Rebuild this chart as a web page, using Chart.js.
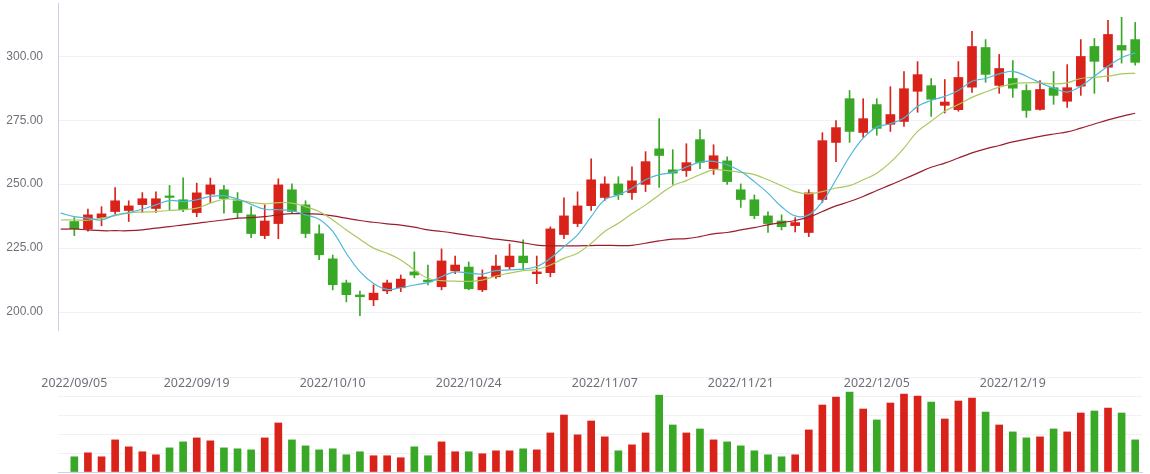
<!DOCTYPE html>
<html>
<head>
<meta charset="utf-8">
<script src="https://cdn.jsdelivr.net/npm/chart.js@4.4.0/dist/chart.umd.min.js"></script>
<style>
    html, body { margin: 0; padding: 0; background: #fff; }
    #wrap { position: relative; width: 1150px; height: 474px; overflow: hidden; }
    #price-chart { position: absolute; left: 0; top: 0; }
    #volume-chart { position: absolute; left: 0; top: 360px; }
</style>
</head>
<body>
<div id="wrap">
    <canvas id="price-chart" width="1150" height="400"></canvas>
    <canvas id="volume-chart" width="1150" height="114"></canvas>
</div>
<script>
// trading days; the first one (09/02) only carries the moving averages, the window cuts it off
const dates = [
    '2022/09/02',
    '2022/09/05', '2022/09/06', '2022/09/07', '2022/09/08', '2022/09/09',
    '2022/09/13', '2022/09/14', '2022/09/15', '2022/09/16',
    '2022/09/19', '2022/09/20', '2022/09/21', '2022/09/22', '2022/09/23',
    '2022/09/26', '2022/09/27', '2022/09/28', '2022/09/29', '2022/09/30',
    '2022/10/10', '2022/10/11', '2022/10/12', '2022/10/13', '2022/10/14',
    '2022/10/17', '2022/10/18', '2022/10/19', '2022/10/20', '2022/10/21',
    '2022/10/24', '2022/10/25', '2022/10/26', '2022/10/27', '2022/10/28',
    '2022/10/31', '2022/11/01', '2022/11/02', '2022/11/03', '2022/11/04',
    '2022/11/07', '2022/11/08', '2022/11/09', '2022/11/10', '2022/11/11',
    '2022/11/14', '2022/11/15', '2022/11/16', '2022/11/17', '2022/11/18',
    '2022/11/21', '2022/11/22', '2022/11/23', '2022/11/24', '2022/11/25',
    '2022/11/28', '2022/11/29', '2022/11/30', '2022/12/01', '2022/12/02',
    '2022/12/05', '2022/12/06', '2022/12/07', '2022/12/08', '2022/12/09',
    '2022/12/12', '2022/12/13', '2022/12/14', '2022/12/15', '2022/12/16',
    '2022/12/19', '2022/12/20', '2022/12/21', '2022/12/22', '2022/12/23',
    '2022/12/26', '2022/12/27', '2022/12/28', '2022/12/29', '2022/12/30'
];

const tickLabels = ['2022/09/05', '2022/09/19', '2022/10/10', '2022/10/24', '2022/11/07', '2022/11/21', '2022/12/05', '2022/12/19'];
const priceTicks = [200, 225, 250, 275, 300];

const openPrices = [null,
    235.4, 232.5, 236.9, 239.3, 239.7, 242.0, 240.5, 245.4, 243.9, 238.9,
    246.1, 247.8, 243.5, 238.0, 229.9, 234.6, 247.8, 241.9, 230.6, 220.8,
    211.4, 206.7, 204.8, 208.3, 209.5, 215.7, 212.5, 209.9, 216.1, 217.6,
    208.7, 213.8, 217.7, 221.9, 215.0, 215.4, 230.3, 234.6, 241.6, 244.8,
    250.1, 246.7, 249.9, 263.8, 255.6, 255.3, 267.4, 256.1, 259.1, 247.8,
    243.9, 237.6, 235.6, 233.8, 231.1, 244.0, 266.3, 283.4, 270.2, 281.1,
    273.4, 274.5, 286.3, 288.5, 280.8, 279.1, 287.9, 303.4, 288.6, 291.3,
    286.6, 279.2, 287.7, 282.4, 288.3, 303.8, 295.7, 304.2, 306.5];
const highPrices = [null,
    236.9, 240.3, 241.2, 248.7, 243.5, 246.7, 247.0, 249.5, 252.5, 250.4,
    252.4, 249.5, 246.7, 241.2, 241.9, 252.1, 250.1, 243.5, 234.1, 222.3,
    212.5, 208.2, 210.6, 212.5, 214.5, 223.5, 218.4, 224.7, 221.9, 219.6,
    216.5, 222.3, 226.6, 228.2, 221.9, 233.3, 244.7, 247.0, 259.9, 252.9,
    252.9, 256.8, 262.7, 275.6, 263.5, 265.8, 271.3, 265.4, 260.7, 250.1,
    245.8, 239.2, 238.0, 236.9, 247.8, 270.1, 274.8, 286.6, 283.4, 283.4,
    288.1, 294.0, 297.9, 291.3, 290.9, 297.9, 309.7, 306.5, 300.7, 298.3,
    288.9, 290.5, 294.0, 296.7, 306.5, 306.9, 314.0, 315.2, 313.2];
const lowPrices = [null,
    229.9, 231.6, 233.7, 238.4, 235.4, 239.0, 239.0, 240.0, 239.2, 237.3,
    242.8, 238.7, 236.7, 229.1, 228.7, 228.7, 238.7, 229.1, 220.5, 208.7,
    204.0, 198.6, 202.5, 207.2, 208.0, 213.4, 210.6, 208.7, 215.0, 208.7,
    208.0, 213.2, 216.7, 216.7, 211.1, 213.8, 228.7, 233.4, 239.7, 243.6,
    244.0, 244.0, 247.1, 248.7, 249.9, 253.0, 256.1, 253.8, 249.9, 240.9,
    236.5, 231.1, 232.1, 231.3, 229.5, 242.8, 258.8, 266.3, 268.3, 269.1,
    270.6, 272.6, 278.1, 276.5, 277.8, 278.5, 285.9, 289.8, 285.5, 283.9,
    276.1, 278.9, 281.2, 280.0, 284.7, 285.5, 290.2, 297.3, 296.5];
const closePrices = [null,
    232.5, 238.0, 238.4, 243.5, 241.5, 244.3, 244.3, 244.8, 240.0, 246.6,
    249.7, 244.4, 238.9, 230.7, 235.6, 249.7, 239.3, 230.7, 222.4, 210.7,
    206.8, 206.0, 207.4, 211.4, 212.9, 214.5, 211.8, 220.0, 218.4, 209.1,
    213.7, 218.0, 221.9, 219.3, 215.7, 232.5, 237.6, 241.5, 251.7, 250.1,
    245.9, 251.3, 258.8, 261.2, 254.3, 258.4, 258.5, 261.1, 251.0, 244.0,
    237.7, 234.6, 233.4, 235.0, 246.6, 267.0, 272.1, 270.6, 275.6, 271.8,
    277.2, 287.3, 292.8, 283.2, 282.1, 291.7, 303.8, 292.9, 295.2, 287.5,
    278.8, 287.0, 284.7, 287.7, 299.9, 298.0, 308.5, 302.4, 297.6];
const volumes = [null,
    16.0, 20.2, 16.0, 33.8, 26.5, 21.3, 18.1, 25.4, 31.7, 35.9,
    32.8, 25.4, 24.4, 23.3, 35.9, 51.6, 33.8, 27.5, 23.3, 24.4,
    18.1, 21.3, 17.1, 17.1, 15.0, 26.5, 17.1, 31.7, 21.3, 21.3,
    19.2, 22.3, 22.3, 24.4, 23.3, 41.1, 60.0, 39.1, 53.7, 37.0,
    22.3, 28.6, 41.1, 80.9, 49.5, 41.1, 45.3, 33.8, 31.7, 27.5,
    22.3, 18.1, 16.0, 18.1, 44.3, 70.5, 78.8, 84.1, 66.3, 54.8,
    72.6, 82.0, 79.9, 73.6, 55.8, 74.7, 77.8, 63.1, 49.5, 42.2,
    35.9, 37.0, 45.3, 42.2, 62.1, 64.2, 67.3, 62.1, 33.8];

const ma5 = [238.7,
    237.3, 236.7, 236.0, 238.0, 238.9, 240.2, 241.9, 243.6, 243.2, 243.9,
    245.2, 245.5, 244.2, 242.1, 240.2, 240.0, 239.6, 238.0, 236.3, 231.5,
    223.0, 215.8, 211.2, 208.9, 209.5, 210.6, 211.5, 213.8, 215.7, 215.2,
    214.9, 216.2, 216.5, 216.8, 217.8, 221.0, 225.6, 230.2, 237.3, 243.9,
    245.8, 248.4, 251.7, 253.7, 254.6, 256.7, 258.6, 258.9, 257.6, 255.0,
    251.0, 246.5, 241.2, 237.6, 238.0, 243.2, 251.7, 260.8, 268.0, 272.3,
    273.6, 275.9, 280.4, 282.7, 284.3, 286.6, 290.2, 291.3, 293.1, 294.1,
    292.2, 289.6, 287.6, 286.0, 288.3, 292.2, 296.1, 299.4, 301.3];
const ma10 = [236.0,
    236.0, 235.9, 236.7, 237.7, 238.7, 239.1, 239.3, 239.7, 240.0, 240.6,
    242.6, 244.1, 243.9, 242.8, 242.3, 242.8, 242.6, 241.2, 239.3, 236.0,
    232.1, 228.5, 225.0, 223.0, 220.4, 216.5, 213.2, 212.3, 212.1, 212.0,
    212.5, 214.1, 215.2, 216.2, 216.7, 218.4, 221.0, 223.0, 226.9, 231.5,
    234.7, 238.4, 241.9, 245.8, 249.4, 251.4, 253.7, 255.6, 255.3, 254.6,
    253.7, 251.7, 249.4, 247.1, 246.2, 247.1, 248.5, 249.4, 251.7, 254.3,
    258.5, 264.1, 270.6, 274.6, 278.5, 281.1, 283.9, 286.0, 287.9, 289.2,
    289.6, 289.6, 289.2, 289.6, 291.3, 291.8, 292.2, 293.1, 293.3];
const ma30 = [232.4,
    232.5, 232.1, 231.8, 231.8, 231.8, 232.1, 232.8, 233.4, 234.1, 234.7,
    235.4, 236.0, 236.7, 236.9, 237.3, 238.0, 238.5, 238.4, 238.3, 237.6,
    236.7, 235.8, 235.1, 234.5, 234.0, 233.2, 232.1, 231.5, 230.8, 230.0,
    229.3, 228.5, 227.9, 227.1, 226.2, 225.9, 225.9, 225.9, 226.0, 226.1,
    226.0, 226.1, 226.9, 227.8, 228.5, 228.7, 229.5, 230.6, 231.1, 232.1,
    233.0, 234.1, 235.0, 235.8, 237.1, 239.3, 241.5, 243.2, 245.2, 247.5,
    249.7, 252.0, 254.3, 256.6, 258.2, 260.2, 262.2, 263.8, 265.1, 266.5,
    267.6, 268.7, 269.6, 270.4, 271.9, 273.5, 275.1, 276.5, 277.7];

const upColor = '#d9221a';
const downColor = '#38a826';
const axisColor = '#c8d3ea';
const gridColor = '#eff1f4';
const labelColor = '#6e7079';
const priceFont = { family: '"Liberation Sans", Arial, sans-serif', size: 12 };
const dateFont = { family: '"Noto Sans", sans-serif', size: 12.4 };
const xMin = -0.2;
const xMax = 79.5;

const wickData = [];
const bodyData = [];
const candleColors = [];
const volumeData = [];
const volumeColors = [];
for (let i = 0; i < dates.length; i++) {
    if (openPrices[i] === null) continue;
    const color = closePrices[i] >= openPrices[i] ? upColor : downColor;
    wickData.push({ x: i, y: [lowPrices[i], highPrices[i]] });
    bodyData.push({ x: i, y: [openPrices[i], closePrices[i]] });
    candleColors.push(color);
    volumeData.push({ x: i, y: volumes[i] });
    volumeColors.push(color);
}

function lineData(values) {
    return values.map(function (v, i) { return { x: i, y: v }; });
}

function maLine(values, color) {
    return {
        type: 'line',
        data: lineData(values),
        borderColor: color,
        borderWidth: 1.2,
        pointRadius: 0,
        tension: 0.4,
        order: 0
    };
}

const tickIndexes = tickLabels.map(function (d) { return dates.indexOf(d); });

new Chart(document.getElementById('price-chart'), {
    type: 'bar',
    data: {
        datasets: [
            maLine(ma5, '#4cb8d9'),
            maLine(ma10, '#a9c95e'),
            maLine(ma30, '#9b1d2c'),
            {
                data: bodyData,
                backgroundColor: candleColors,
                barThickness: 9,
                grouped: false,
                order: 1
            },
            {
                data: wickData,
                backgroundColor: candleColors,
                barThickness: 1,
                grouped: false,
                order: 2
            }
        ]
    },
    options: {
        responsive: false,
        devicePixelRatio: 1,
        animation: false,
        layout: { padding: { top: 3, right: 8, left: 0, bottom: 0 } },
        plugins: { legend: { display: false }, tooltip: { enabled: false } },
        scales: {
            x: {
                type: 'linear',
                offset: false,
                min: xMin,
                max: xMax,
                grid: { display: false, drawTicks: false },
                border: { display: false },
                afterBuildTicks: function (scale) {
                    scale.ticks = tickIndexes.map(function (v) { return { value: v }; });
                },
                afterFit: function (scale) {
                    scale.height = 70;
                    scale.paddingLeft = 0;
                    scale.paddingRight = 0;
                },
                ticks: {
                    autoSkip: false,
                    maxRotation: 0,
                    padding: 46,
                    color: labelColor,
                    font: dateFont,
                    callback: function (value) { return dates[value]; }
                }
            },
            y: {
                min: 193,
                max: 320.8,
                grid: { color: gridColor, drawTicks: false },
                border: { color: axisColor },
                afterBuildTicks: function (scale) {
                    scale.ticks = priceTicks.map(function (v) { return { value: v }; });
                },
                afterFit: function (scale) {
                    scale.width = 58;
                    scale.paddingTop = 0;
                    scale.paddingBottom = 0;
                },
                ticks: {
                    padding: 15,
                    color: labelColor,
                    font: priceFont,
                    callback: function (value) { return value.toFixed(2); }
                }
            }
        }
    }
});

new Chart(document.getElementById('volume-chart'), {
    type: 'bar',
    data: {
        datasets: [{
            data: volumeData,
            backgroundColor: volumeColors,
            barThickness: 7
        }]
    },
    options: {
        responsive: false,
        devicePixelRatio: 1,
        animation: false,
        layout: { padding: { top: 17, right: 8, left: 0, bottom: 2 } },
        plugins: { legend: { display: false }, tooltip: { enabled: false } },
        scales: {
            x: {
                type: 'linear',
                offset: false,
                min: xMin,
                max: xMax,
                grid: { display: false, drawTicks: false },
                border: { color: axisColor },
                ticks: { display: false },
                afterFit: function (scale) {
                    scale.height = 0;
                    scale.paddingLeft = 0;
                    scale.paddingRight = 0;
                }
            },
            y: {
                min: 0,
                max: 100,
                grid: { color: gridColor, drawTicks: false },
                border: { display: false },
                ticks: { display: false, stepSize: 20 },
                afterFit: function (scale) {
                    scale.width = 58;
                    scale.paddingTop = 0;
                    scale.paddingBottom = 0;
                }
            }
        }
    }
});
</script>
</body>
</html>
